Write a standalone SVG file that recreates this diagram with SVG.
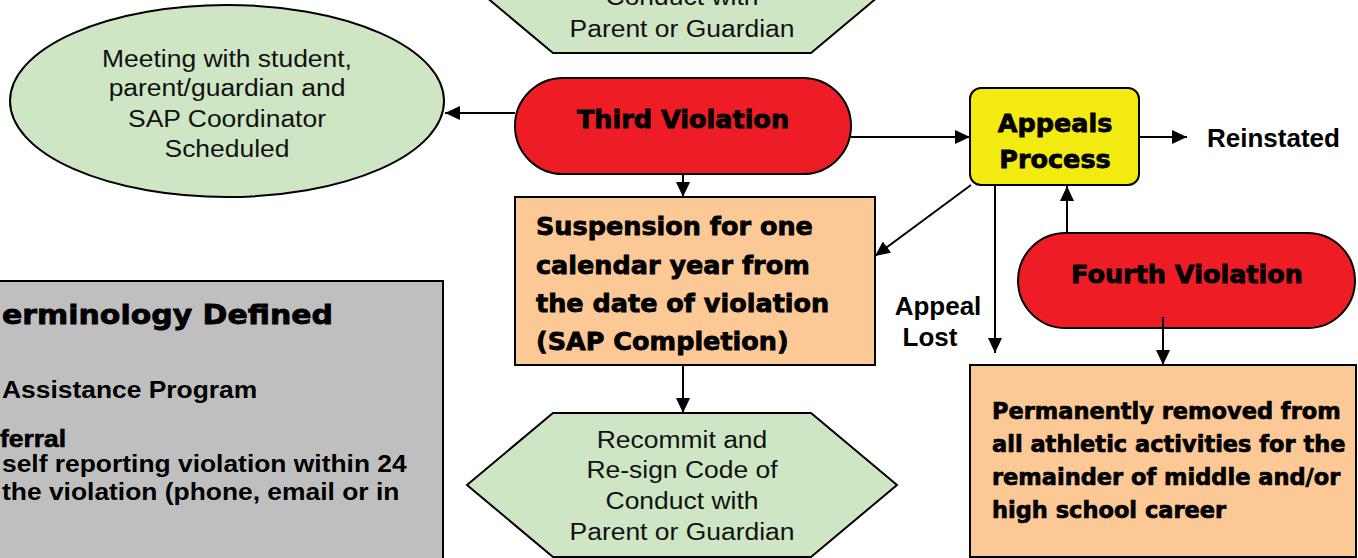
<svg xmlns="http://www.w3.org/2000/svg" width="1358" height="558" viewBox="0 0 1358 558">
<style>
.g{fill:#cfe6c5;stroke:#000;stroke-width:2}
.r{fill:#ee1c24;stroke:#000;stroke-width:2}
.p{fill:#fcc996;stroke:#000;stroke-width:2}
.y{fill:#f3eb10;stroke:#000;stroke-width:2}
.gr{fill:#bfbfbf;stroke:#000;stroke-width:2}
.t{font-family:"Liberation Sans",Arial,sans-serif;font-size:24.5px;fill:#111}
.c{text-anchor:middle}
.b{font-family:"Liberation Sans",Arial,sans-serif;font-weight:bold;font-size:24px;fill:#000}
.h{font-family:"DejaVu Sans",sans-serif;font-weight:bold;font-size:25.5px;fill:#000;stroke:#000;stroke-width:0.8}
.hs{font-family:"DejaVu Sans",sans-serif;font-weight:bold;font-size:22.5px;fill:#000;stroke:#000;stroke-width:0.7}
.ln{stroke:#000;stroke-width:2;fill:none}
</style>
<defs>
<marker id="ah" markerUnits="userSpaceOnUse" markerWidth="15" markerHeight="14" refX="15" refY="7" orient="auto">
<path d="M0,0 L15,7 L0,14 z" fill="#000"/>
</marker>
</defs>
<rect width="1358" height="558" fill="#fff"/>

<g id="terminology">
<rect class="gr" x="-3" y="281" width="446" height="290"/>
<text class="h" x="2" y="324" style="font-size:27px" textLength="331" lengthAdjust="spacingAndGlyphs">erminology Defined</text>
<text class="b" transform="translate(2,398) scale(1.1,1)">Assistance Program</text>
<text class="b" transform="translate(0,447) scale(1.1,1)" stroke="#000" stroke-width="0.6">ferral</text>
<text class="b" transform="translate(2,472) scale(1.1,1)">self reporting violation within 24</text>
<text class="b" transform="translate(2,500) scale(1.1,1)">the violation (phone, email or in</text>
</g>

<g id="hex-top">
<polygon class="g" points="467,-19 553,-91 811,-91 897,-19 811,53 553,53"/>
<text class="t c" transform="translate(682,5) scale(1.08,1)">Conduct with</text>
<text class="t c" transform="translate(682,37) scale(1.08,1)">Parent or Guardian</text>
</g>

<g id="meeting">
<ellipse class="g" cx="227" cy="101" rx="217" ry="96"/>
<text class="t c" transform="translate(227,67) scale(1.08,1)">Meeting with student,</text>
<text class="t c" transform="translate(227,96) scale(1.08,1)">parent/guardian and</text>
<text class="t c" transform="translate(227,127) scale(1.08,1)">SAP Coordinator</text>
<text class="t c" transform="translate(227,157) scale(1.08,1)">Scheduled</text>
</g>

<g id="third">
<rect class="r" x="515" y="78" width="336" height="96" rx="48" ry="48"/>
<text class="h c" x="683" y="128">Third Violation</text>
</g>

<g id="suspension">
<rect class="p" x="515" y="197" width="360" height="168"/>
<text class="h" x="536" y="235">Suspension for one</text>
<text class="h" x="536" y="274">calendar year from</text>
<text class="h" x="536" y="312">the date of violation</text>
<text class="h" x="536" y="350">(SAP Completion)</text>
</g>

<g id="hex-bottom">
<polygon class="g" points="467,485 553,413 811,413 897,485 811,557 553,557"/>
<text class="t c" transform="translate(682,448) scale(1.08,1)">Recommit and</text>
<text class="t c" transform="translate(682,478) scale(1.08,1)">Re-sign Code of</text>
<text class="t c" transform="translate(682,509) scale(1.08,1)">Conduct with</text>
<text class="t c" transform="translate(682,540) scale(1.08,1)">Parent or Guardian</text>
</g>

<g id="appeals">
<rect class="y" x="970" y="88" width="169" height="97" rx="11" ry="11"/>
<text class="h c" x="1055" y="132">Appeals</text>
<text class="h c" x="1055" y="168">Process</text>
</g>

<g id="reinstated">
<text class="b" x="1207" y="147" style="font-size:26px">Reinstated</text>
</g>

<g id="appeal-lost">
<text class="b c" x="938" y="315" style="font-size:26px">Appeal</text>
<text class="b c" x="930" y="346" style="font-size:26px">Lost</text>
</g>

<g id="fourth">
<rect class="r" x="1018" y="233" width="337" height="95" rx="47.5" ry="47.5"/>
<text class="h c" x="1187" y="283">Fourth Violation</text>
</g>

<g id="permanent">
<rect class="p" x="970" y="365" width="386" height="192"/>
<text class="hs" x="992" y="419">Permanently removed from</text>
<text class="hs" x="992" y="452">all athletic activities for the</text>
<text class="hs" x="992" y="485">remainder of middle and/or</text>
<text class="hs" x="992" y="518">high school career</text>
</g>

<g id="connectors">
<line class="ln" x1="515" y1="113" x2="445" y2="113" marker-end="url(#ah)"/>
<line class="ln" x1="683" y1="174" x2="683" y2="197" marker-end="url(#ah)"/>
<line class="ln" x1="683" y1="365" x2="683" y2="413" marker-end="url(#ah)"/>
<line class="ln" x1="851" y1="137" x2="970" y2="137" marker-end="url(#ah)"/>
<line class="ln" x1="1139" y1="137" x2="1187" y2="137" marker-end="url(#ah)"/>
<line class="ln" x1="971" y1="185" x2="875" y2="256" marker-end="url(#ah)"/>
<line class="ln" x1="995" y1="185" x2="995" y2="353" marker-end="url(#ah)"/>
<line class="ln" x1="1067" y1="233" x2="1067" y2="186" marker-end="url(#ah)"/>
<line class="ln" x1="1163" y1="317" x2="1163" y2="365" marker-end="url(#ah)"/>
</g>
</svg>
